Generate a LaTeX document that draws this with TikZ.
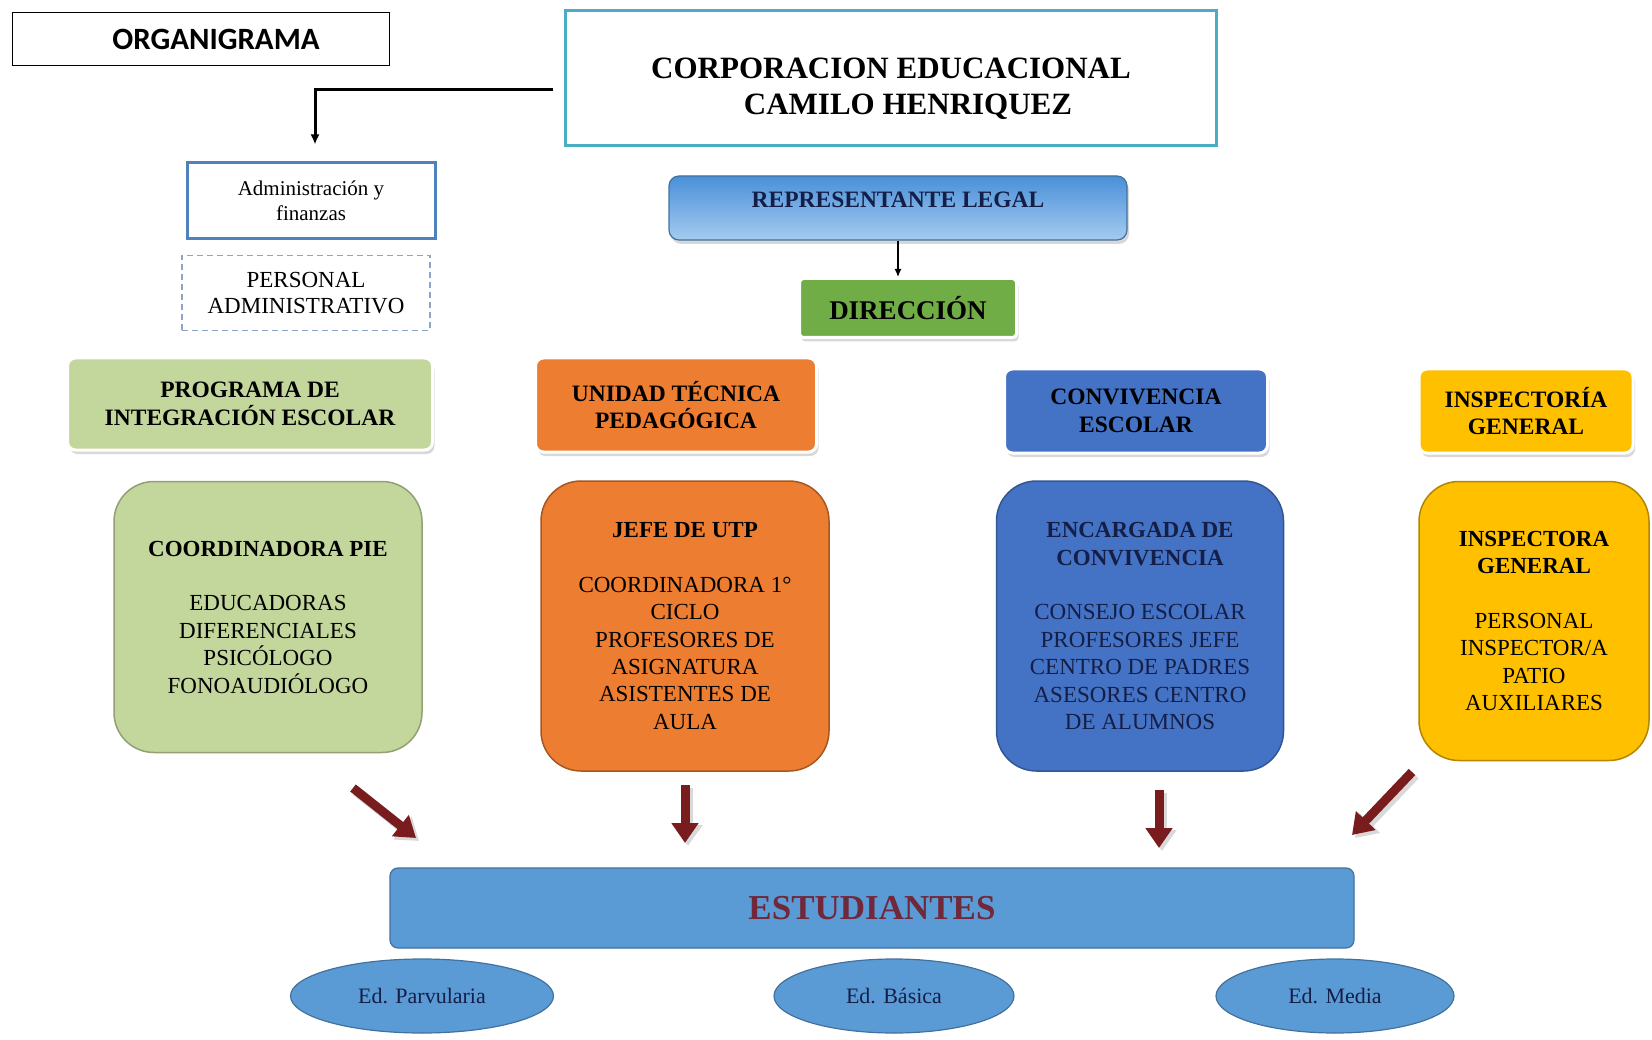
\documentclass[tikz,border=0pt]{standalone}
\usepackage{fontspec}
\setmainfont{Liberation Serif}
\newfontfamily\calibrifont{Carlito}
\usepackage{tikz}
\usetikzlibrary{arrows.meta,shadows,shapes.geometric}

\definecolor{tealline}{RGB}{75,172,198}
\definecolor{adminblue}{RGB}{79,129,189}
\definecolor{dashblue}{RGB}{140,165,200}
\definecolor{reptop}{RGB}{74,144,217}
\definecolor{repbottom}{RGB}{165,203,240}
\definecolor{repline}{RGB}{65,113,156}
\definecolor{dirgreen}{RGB}{112,173,71}
\definecolor{piegreen}{RGB}{195,214,155}
\definecolor{utporange}{RGB}{237,125,49}
\definecolor{convblue}{RGB}{68,114,196}
\definecolor{inspgold}{RGB}{255,192,0}
\definecolor{studblue}{RGB}{91,155,213}
\definecolor{studline}{RGB}{65,113,156}
\definecolor{studred}{RGB}{112,40,58}
\definecolor{arrowred}{RGB}{120,28,30}
\definecolor{navytext}{RGB}{20,30,70}

\begin{document}
\begin{tikzpicture}[x=1pt, y=-1pt,
        header/.style={rounded corners=8pt, draw=white, line width=3pt, drop shadow={shadow xshift=2pt, shadow yshift=-4pt, fill=black!30}, align=center, inner sep=0pt, font=\bfseries\fontsize{23.5}{27.4}\selectfont},
        bigbox/.style={rounded corners=40pt, line width=1.5pt, align=center, inner sep=0pt, font=\fontsize{23}{27.4}\selectfont},
        edlevel/.style={ellipse, draw=studline, fill=studblue, line width=1.2pt, minimum height=74pt, text=navytext, font=\fontsize{22}{26}\selectfont},
        blockarrow/.style={line width=9pt, draw=arrowred, -{Triangle[length=20pt,width=26pt]}},
        arrowshade/.style={line width=10pt, draw=black!15, -{Triangle[length=21pt,width=28pt]}}]
        \useasboundingbox (0,0) rectangle (1652,1040);

        % Nodes
        \node (title) [draw, line width=1.2pt, minimum width=377pt, minimum height=53pt, font=\calibrifont\bfseries\fontsize{31}{36}\selectfont] at (201,39) {\hspace*{30pt}ORGANIGRAMA};
        \node (corp) [draw=tealline, line width=3.5pt, minimum width=651pt, minimum height=135pt, font=\bfseries\fontsize{31}{36}\selectfont] at (891,78) {\raisebox{-11pt}[\height][\depth]{\begin{tabular}{@{}c@{}}CORPORACION EDUCACIONAL\\\hspace*{34pt}CAMILO HENRIQUEZ\end{tabular}}};
        \node (admin) [draw=adminblue, line width=3pt, minimum width=248pt, minimum height=76pt, align=center, font=\fontsize{21}{25}\selectfont] at (311,201) {Administración y\\finanzas};
        \node (staff) [draw=dashblue, dash pattern=on 6pt off 4pt, line width=1.3pt, minimum width=248pt, minimum height=75pt, align=center, font=\fontsize{23}{26}\selectfont] at (306,293) {PERSONAL\\ADMINISTRATIVO};
        \node (rep) [rounded corners=10pt, draw=repline, line width=1.2pt, top color=reptop, bottom color=repbottom, drop shadow={shadow xshift=2pt, shadow yshift=-4pt, fill=black!30}, minimum width=458pt, minimum height=64pt, text=navytext, font=\bfseries\fontsize{23.5}{27}\selectfont] at (898,208) {\raisebox{8pt}[\height][\depth]{REPRESENTANTE LEGAL}};
        \node (dir) [fill=dirgreen, draw=white, line width=3pt, rounded corners=4pt, drop shadow={shadow xshift=2pt, shadow yshift=-4pt, fill=black!30}, minimum width=217pt, minimum height=59pt, font=\bfseries\fontsize{27}{30}\selectfont] at (908,308) {DIRECCIÓN};

        \node (pie) [header, fill=piegreen, minimum width=365pt, minimum height=92pt] at (250,404) {PROGRAMA DE\\INTEGRACIÓN ESCOLAR};
        \node (utp) [header, fill=utporange, minimum width=281pt, minimum height=94pt] at (676,405) {UNIDAD TÉCNICA\\PEDAGÓGICA};
        \node (conv) [header, fill=convblue, minimum width=263pt, minimum height=84pt] at (1136,411) {CONVIVENCIA\\ESCOLAR};
        \node (insp) [header, fill=inspgold, minimum width=214pt, minimum height=84pt] at (1526,411) {INSPECTORÍA\\GENERAL};

        \node (piebox) [bigbox, fill=piegreen, draw=piegreen!75!black, minimum width=308pt, minimum height=271pt] at (268,617) {\textbf{COORDINADORA PIE}\\[27.4pt]EDUCADORAS\\DIFERENCIALES\\PSICÓLOGO\\FONOAUDIÓLOGO};
        \node (utpbox) [bigbox, fill=utporange, draw=utporange!70!black, minimum width=288pt, minimum height=290pt] at (685,626) {\textbf{JEFE DE UTP}\\[27.4pt]COORDINADORA 1°\\CICLO\\PROFESORES DE\\ASIGNATURA\\ASISTENTES DE\\AULA};
        \node (convbox) [bigbox, fill=convblue, draw=convblue!75!black, text=navytext, minimum width=287pt, minimum height=290pt] at (1140,626) {\textbf{ENCARGADA DE}\\\textbf{CONVIVENCIA}\\[27.4pt]CONSEJO ESCOLAR\\PROFESORES JEFE\\CENTRO DE PADRES\\ASESORES CENTRO\\DE ALUMNOS};
        \node (inspbox) [bigbox, fill=inspgold, draw=inspgold!70!black, minimum width=230pt, minimum height=279pt] at (1534,621) {\textbf{INSPECTORA}\\\textbf{GENERAL}\\[27.4pt]PERSONAL\\INSPECTOR/A\\PATIO\\AUXILIARES};

        \node (students) [rounded corners=8pt, fill=studblue, draw=studline, line width=1.2pt, minimum width=964pt, minimum height=80pt, text=studred, font=\bfseries\fontsize{35}{40}\selectfont] at (872,908) {ESTUDIANTES};
        \node (parv) [edlevel, minimum width=263pt] at (422,996) {Ed. Parvularia};
        \node (basica) [edlevel, minimum width=240pt] at (894,996) {Ed. Básica};
        \node (media) [edlevel, minimum width=238pt] at (1335,996) {Ed. Media};

        \coordinate (a1s) at (353,788);
        \coordinate (a1e) at (416,838);
        \coordinate (a2s) at (685,785);
        \coordinate (a2e) at (685,843);
        \coordinate (a3s) at (1159,790);
        \coordinate (a3e) at (1159,848);
        \coordinate (a4s) at (1412,772);
        \coordinate (a4e) at (1352,835);

        % Edges
        \draw[line width=3pt, -{Latex[length=10pt,width=9pt]}] ([shift={(-11pt,-12pt)}]corp.west) -| ([shift={(4pt,17pt)}]admin.north);
        \draw[line width=1.3pt, -{Latex[length=8pt,width=7pt]}] (rep.south) -- (rep.south |- dir.north);
        \foreach \s/\e in {a1s/a1e, a2s/a2e, a3s/a3e, a4s/a4e} {
            \draw[arrowshade] ([shift={(3pt,-3pt)}]\s) -- ([shift={(3pt,-3pt)}]\e);
            \draw[blockarrow] (\s) -- (\e);
        }
    \end{tikzpicture}
\end{document}
